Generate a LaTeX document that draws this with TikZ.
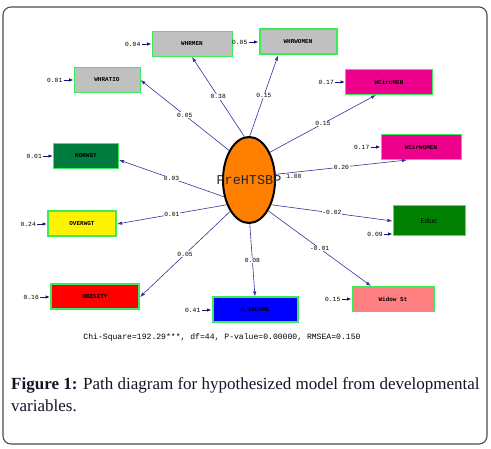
\documentclass[tikz,border=0pt]{standalone}
\usepackage{fontspec}
\setmainfont{Liberation Serif}
\newfontfamily\lisrel{Liberation Mono}
\usetikzlibrary{positioning,arrows.meta,shapes.geometric}
\definecolor{boxgreen}{RGB}{60,235,90}
\definecolor{boxgray}{RGB}{192,192,192}
\definecolor{norgreen}{RGB}{0,125,62}
\definecolor{edgreen}{RGB}{0,128,0}
\definecolor{widowpink}{RGB}{255,128,128}
\definecolor{latorange}{RGB}{255,128,0}
\definecolor{pathblue}{RGB}{50,50,160}
\definecolor{errnavy}{RGB}{20,20,120}
\definecolor{captext}{RGB}{20,20,40}

\begin{document}
\begin{tikzpicture}[x=1pt, y=-1pt,
    box/.style={draw=boxgreen, line width=1pt, minimum height=25pt, inner sep=0pt, font=\lisrel\bfseries\fontsize{6}{7}\selectfont},
    thickbox/.style={box, line width=2pt},
    latent/.style={draw=black, ellipse, line width=2pt, fill=latorange, minimum width=52pt, minimum height=86pt, inner sep=0pt},
    loading/.style={-{Latex[length=5pt,width=3.5pt]}, draw=pathblue, line width=0.6pt},
    coef/.style={fill=white, inner sep=0.6pt, font=\lisrel\fontsize{6.3}{7}\selectfont},
    errlbl/.style={inner sep=1pt, font=\lisrel\fontsize{6.3}{7}\selectfont},
    errarrow/.style={-{Latex[length=4.5pt,width=3.5pt]}, draw=errnavy, line width=0.9pt}]
\useasboundingbox (0,0) rectangle (491,449);
% Draw frame
\draw[gray!60!black, line width=1.1pt, rounded corners=8pt] (3,7) rectangle (487,444);
% Draw latent variable
\node[latent] (PreHTSBP) at (249,180) {};
\node[font=\lisrel\fontsize{13.5}{15}\selectfont, text=black!85] at (PreHTSBP) {PreHTSBP};
% Draw observed variables
\node[box, fill=boxgray, minimum width=80pt] (WHRMEN) at (192,44) {WHRMEN};
\node[thickbox, fill=boxgray, minimum width=77pt] (WHRWOMEN) at (298,42) {WHRWOMEN};
\node[box, fill=boxgray, minimum width=66pt] (WHRATIO) at (107,80) {WHRATIO};
\node[box, fill=magenta, minimum width=87pt] (WCircMEN) at (389,82) {WCircMEN};
\node[box, fill=magenta, minimum width=80pt] (WCirWOMEN) at (421,147) {WCirWOMEN};
\node[box, fill=norgreen, minimum width=65pt] (NORWGT) at (86,156) {NORWGT};
\node[thickbox, fill=yellow, minimum width=68pt] (OVERWGT) at (82,224) {OVERWGT};
\node[thickbox, fill=red, minimum width=88pt] (OBESITY) at (95,297) {OBESITY};
\node[thickbox, fill=blue, minimum width=85pt] (HINCOME) at (255,310) {H.INCOME};
\node[box, fill=widowpink, minimum width=82pt] (Widow) at (393,299) {Widow St};
\node[box, fill=edgreen, minimum width=72pt, minimum height=30pt, font=\lisrel\fontsize{7}{8}\selectfont] (Educ) at (429,221) {Educ};
% Draw loadings
\draw[loading] (PreHTSBP.96) -- (WHRMEN.south) node[coef, midway] {0.38};
\draw[loading] (PreHTSBP.89) -- ([xshift=-20pt]WHRWOMEN.south) node[coef, midway] {0.15};
\draw[loading] (PreHTSBP.124) -- (WHRATIO.east) node[coef, midway] {0.05};
\draw[loading] (PreHTSBP.53) -- ([xshift=-13pt]WCircMEN.south) node[coef, midway] {0.15};
\draw[loading] (PreHTSBP.12) -- ([xshift=-14pt]WCirWOMEN.south) node[coef, midway] {0.20};
\draw[loading] (PreHTSBP.214) -- ([yshift=-4pt]NORWGT.east) node[coef, midway] {0.03};
\draw[loading] (PreHTSBP.228) -- (OVERWGT.east) node[coef, midway] {0.01};
\draw[loading] (PreHTSBP.239) -- (OBESITY.east) node[coef, midway] {0.05};
\draw[loading] (PreHTSBP.271) -- (HINCOME.north) node[coef, midway] {0.08};
\draw[loading] (PreHTSBP.312) -- (Educ.west) node[coef, midway] {-0.02};
\draw[loading] (PreHTSBP.302) -- ([xshift=-22pt]Widow.north) node[coef, midway] {-0.01};
\node[errlbl] (var) at (294,176) {1.00};
% Draw error variances
\foreach \n/\v in {WHRMEN/0.04, WHRWOMEN/0.05, WHRATIO/0.01, WCircMEN/0.17, WCirWOMEN/0.17,
    NORWGT/0.01, OVERWGT/0.24, OBESITY/0.16, HINCOME/0.41, Widow/0.15}
{
    \node[errlbl, left=10pt of \n] (e\n) {\v};
    \draw[errarrow] (e\n) -- (\n);
}
\node[errlbl] (eEduc) at (375,234) {0.09};
\draw[errarrow] (eEduc) -- (eEduc -| Educ.west);
% Fit statistics and caption
\node[font=\lisrel\fontsize{8.1}{9}\selectfont] (fit) at (222,337) {Chi-Square=192.29***, df=44, P-value=0.00000, RMSEA=0.150};
\node[anchor=north west, align=left, inner sep=0pt, text=captext, font=\fontsize{17}{22}\selectfont] (caption) at (11,377)
    {\textbf{Figure 1:} Path diagram for hypothesized model from developmental\\variables.};
\end{tikzpicture}
\end{document}
